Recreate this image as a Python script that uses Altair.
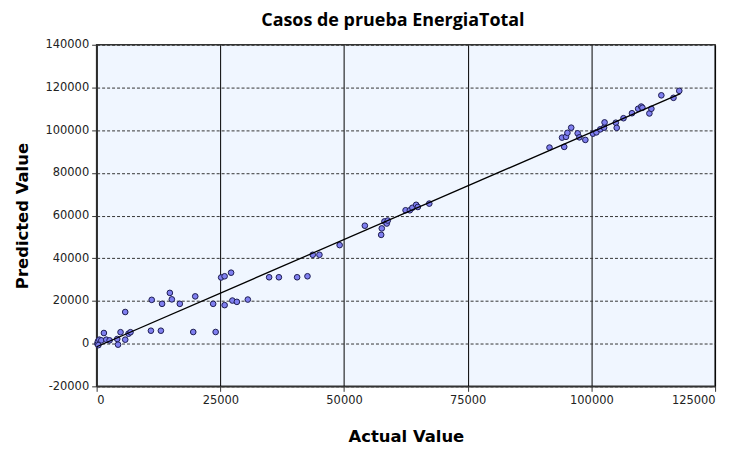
import altair as alt
import pandas as pd

actual = [140, 262, 544, 946, 342, 1469, 1953, 2617, 4167, 4328, 4831, 5777, 5777, 6442, 6844,
          10971, 11132, 12984, 13225, 14796, 15198, 16809, 19526, 19929, 23552, 24055, 25163,
          25867, 25867, 27176, 27437, 28343, 30557, 34865, 36838, 40522, 42615, 43682, 45031,
          49117, 54210, 57511, 57632, 58176, 58639, 58840, 62443, 63309, 63812, 64577, 64919,
          67234, 91531, 94068, 94510, 94873, 95155, 95919, 97228, 97570, 98778, 100308, 101012,
          101797, 102562, 102663, 104938, 105119, 106488, 108199, 109447, 110071, 110312,
          111722, 112124, 114137, 116593, 117761]
predicted = [0, 1072, 1865, 1538, -700, 4988, 1865, 1538, 2191, -466, 5361, 1865, 14825, 4662, 5361,
             6061, 20513, 6061, 18648, 23776, 20746, 18648, 5455, 22145, 18648, 5455, 31002,
             31562, 18042, 33240, 20186, 19580, 20653, 31096, 31096, 31096, 31562, 41632, 41632,
             46154, 55245, 50956, 53986, 57249, 56270, 57669, 62471, 62471, 63636, 65035, 64009,
             65594, 91841, 96503, 92168, 96876, 98741, 101165, 98507, 96643, 95431, 98368, 98974,
             100373, 101165, 103636, 103496, 101072, 105594, 107925, 110023, 111049, 110489,
             107832, 110023, 116317, 115151, 118415]

title_text = "Casos de prueba EnergiaTotal"
x_title = "Actual Value"
y_title = "Predicted Value"
x_ticks = [0, 25000, 50000, 75000, 100000, 125000]
y_ticks = [-20000, 0, 20000, 40000, 60000, 80000, 100000, 120000, 140000]

df = pd.DataFrame({"actual": actual, "predicted": predicted})

xscale = alt.Scale(domain=[0, 125000], nice=False, zero=False)
yscale = alt.Scale(domain=[-20000, 140000], nice=False, zero=False)

common = dict(labelExpr="datum.value + ''", domainColor="#333333", domainWidth=1.5,
              tickColor="#333333", tickSize=5, labelFont="DejaVu Sans", labelFontSize=11.5,
              labelColor="#222222", labelPadding=3, titleFont="DejaVu Sans", titleFontSize=16.5,
              titleFontWeight="bold", titleColor="#000000")

xaxis = alt.Axis(values=x_ticks, title=x_title, grid=True, gridColor="#000000",
                 gridWidth=1, gridOpacity=1, titlePadding=23, **common)
yaxis = alt.Axis(values=y_ticks, title=y_title, grid=True, gridColor="#333333",
                 gridDash=[3, 2], gridWidth=1, gridOpacity=1, titlePadding=15, **common)

base = alt.Chart(df)

points = base.mark_point(filled=True, shape="circle", size=32, fill="#7F7FF0",
                         stroke="#1c1c50", strokeWidth=1, opacity=1).encode(
    x=alt.X("actual:Q", scale=xscale, axis=xaxis),
    y=alt.Y("predicted:Q", scale=yscale, axis=yaxis),
)

line = base.transform_regression("actual", "predicted", extent=[0, 118000]).mark_line(
    color="#000000", strokeWidth=1.3).encode(
    x=alt.X("actual:Q", scale=xscale),
    y=alt.Y("predicted:Q", scale=yscale),
)

chart = alt.layer(points, line).properties(
    width=621, height=343,
    title=alt.TitleParams(title_text, font="Open Sans", fontSize=18, fontWeight="bold",
                          anchor="middle", color="#000000", offset=9, dx=-13),
    autosize=alt.AutoSizeParams(type="none"),
    padding={"left": 89, "top": 36, "right": 20, "bottom": 62},
    background="#ffffff",
).configure_view(fill="#F0F6FF", stroke="#333333", strokeWidth=1.5)

chart.save("out.html", embed_options={"renderer": "svg", "actions": False})
